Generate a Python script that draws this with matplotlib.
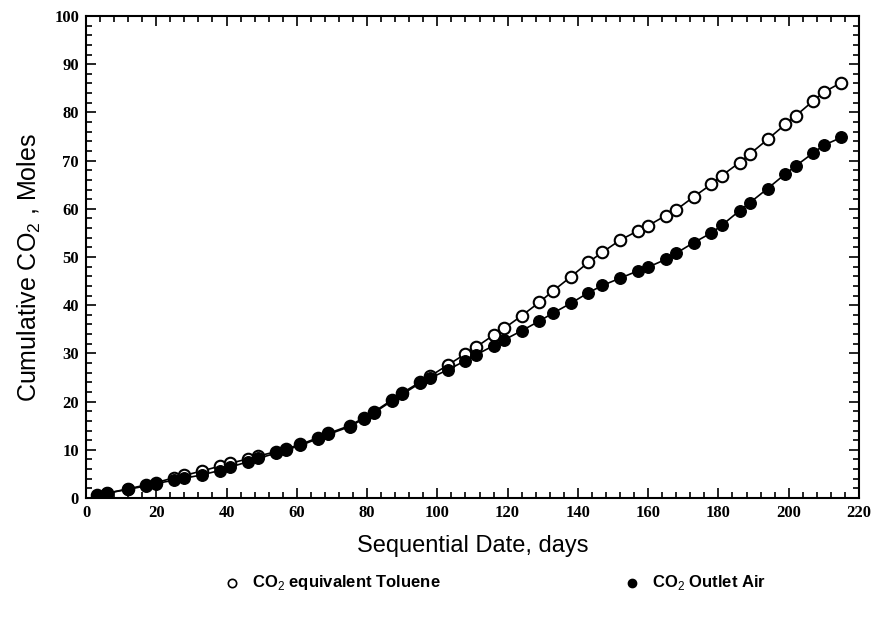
import matplotlib
matplotlib.use("Agg")
import matplotlib.pyplot as plt
from matplotlib.lines import Line2D
from matplotlib.ticker import MultipleLocator

plt.rcParams['mathtext.fontset'] = 'custom'
plt.rcParams['mathtext.rm'] = 'Liberation Sans'
plt.rcParams['mathtext.bf'] = 'Liberation Sans:bold'

days = [3, 6, 12, 17, 20, 25, 28, 33, 38, 41, 46, 49, 54, 57, 61, 66, 69, 75, 79, 82,
        87, 90, 95, 98, 103, 108, 111, 116, 119, 124, 129, 133, 138, 143, 147, 152,
        157, 160, 165, 168, 173, 178, 181, 186, 189, 194, 199, 202, 207, 210, 215]

toluene = [0.6, 1.0, 1.9, 2.7, 3.2, 4.2, 4.7, 5.6, 6.6, 7.2, 8.1, 8.7, 9.6, 10.2, 11.1,
           12.5, 13.4, 15.0, 16.6, 17.9, 20.3, 21.8, 24.0, 25.3,
           27.6, 29.9, 31.3, 33.8, 35.2, 37.8, 40.6, 43.0, 45.9, 48.9, 51.0, 53.5,
           55.4, 56.5, 58.6, 59.8, 62.5, 65.1, 66.9, 69.6, 71.4, 74.4, 77.5, 79.3,
           82.4, 84.2, 86.2]

outlet_air = [0.5, 1.0, 1.8, 2.5, 3.0, 3.7, 4.1, 4.8, 5.7, 6.4, 7.5, 8.2, 9.3, 10.0, 10.9,
              12.3, 13.2, 14.8, 16.4, 17.7, 20.1, 21.5, 23.8, 24.9,
              26.6, 28.5, 29.7, 31.6, 32.8, 34.7, 36.7, 38.4, 40.4, 42.6, 44.1, 45.6,
              47.1, 47.9, 49.5, 50.8, 53.0, 55.0, 56.6, 59.6, 61.3, 64.2, 67.2, 68.9,
              71.6, 73.2, 74.8]

x_ticks = list(range(0, 221, 20))
y_ticks = list(range(0, 101, 10))
legend_labels = ['CO$_2$ equivalent Toluene', 'CO$_2$ Outlet Air']

fig = plt.figure(figsize=(8.74, 6.25), dpi=100)
ax = fig.add_axes([0.0984, 0.2032, 0.8844, 0.7712])

ax.plot(days, toluene, '-', color='black', lw=1.2, marker='o', ms=8.3,
        mfc='white', mec='black', mew=1.5, zorder=2)
ax.plot(days, outlet_air, '-', color='black', lw=1.2, marker='o', ms=8.3,
        mfc='black', mec='black', mew=1.0, zorder=3)

ax.set_xlim(0, 220)
ax.set_ylim(0, 100)
ax.set_xticks(x_ticks)
ax.set_yticks(y_ticks)
ax.xaxis.set_minor_locator(MultipleLocator(4))
ax.yaxis.set_minor_locator(MultipleLocator(2))
ax.tick_params(which='both', direction='in', top=True, right=True, width=1.2)
ax.tick_params(which='major', length=7)
ax.tick_params(which='minor', length=4)
for s in ax.spines.values():
    s.set_linewidth(1.5)

for lab in ax.get_xticklabels() + ax.get_yticklabels():
    lab.set_family('Liberation Serif')
    lab.set_fontweight('bold')
    lab.set_fontsize(12)
ax.tick_params(axis='x', pad=5)
ax.tick_params(axis='y', pad=5)

ax.set_xlabel('Sequential Date, days', family='Liberation Sans', fontsize=17)
ax.xaxis.set_label_coords(0.5, -0.077)
ax.set_ylabel('Cumulative CO$_2$ , Moles', family='Liberation Sans', fontsize=18)
ax.yaxis.set_label_coords(-0.056, 0.477)

# legend, drawn below the axes
h1 = Line2D([232 / 874], [1 - 583 / 625], transform=fig.transFigure, linestyle='none',
            marker='o', ms=6, mfc='white', mec='black', mew=1.2)
h2 = Line2D([632 / 874], [1 - 583 / 625], transform=fig.transFigure, linestyle='none',
            marker='o', ms=6, mfc='black', mec='black')
fig.add_artist(h1)
fig.add_artist(h2)
fig.text(252 / 874, 1 - 583 / 625, legend_labels[0], family='Liberation Sans', fontsize=12,
         fontweight='bold', va='center', ha='left')
fig.text(652 / 874, 1 - 583 / 625, legend_labels[1], family='Liberation Sans', fontsize=12,
         fontweight='bold', va='center', ha='left')

fig.savefig('out.png', dpi=100)
